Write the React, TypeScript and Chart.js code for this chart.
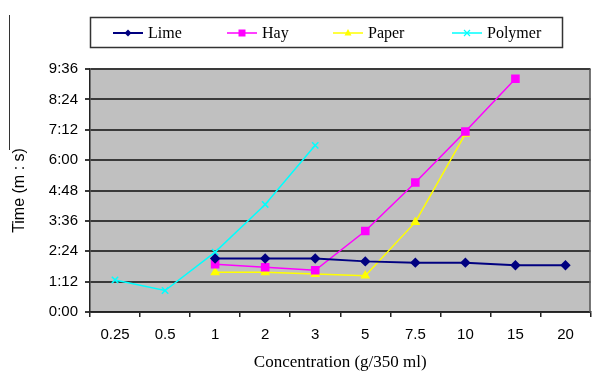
import React, { useEffect, useRef } from "react";
import { Chart, registerables } from "chart.js";

Chart.register(...registerables);

const categories = ["0.25", "0.5", "1", "2", "3", "5", "7.5", "10", "15", "20"];
// values in seconds
const limeValues = [null, null, 127, 127, 127, 120, 117, 117, 111, 111];
const hayValues = [null, null, 113, 106, 99, 192, 307, 428, 553, null];
const paperValues = [null, null, 94, 94, 90, 86, 213, 422, null, null];
const polymerValues = [76, 51, 142, 255, 395, null, null, null, null, null];
const yTickStep = 72;
const yMax = 576;

const seriesNames = ["Lime", "Hay", "Paper", "Polymer"];
const seriesColors = ["#000080", "#FF00FF", "#FFFF00", "#00FFFF"];

function fmt(v: number) {
  const m = Math.floor(v / 60);
  const s = Math.round(v % 60);
  return `${m}:${String(s).padStart(2, "0")}`;
}

function drawMarker(ctx: CanvasRenderingContext2D, kind: string, x: number, y: number, color: string) {
  ctx.save();
  ctx.fillStyle = color;
  ctx.strokeStyle = color;
  ctx.lineWidth = 1.2;
  ctx.beginPath();
  if (kind === "diamond") {
    ctx.moveTo(x, y - 3.5);
    ctx.lineTo(x + 3.5, y);
    ctx.lineTo(x, y + 3.5);
    ctx.lineTo(x - 3.5, y);
    ctx.closePath();
    ctx.fill();
  } else if (kind === "square") {
    ctx.rect(x - 3.5, y - 3.5, 7, 7);
    ctx.fill();
  } else if (kind === "triangle") {
    ctx.moveTo(x, y - 4);
    ctx.lineTo(x + 3.5, y + 2.5);
    ctx.lineTo(x - 3.5, y + 2.5);
    ctx.closePath();
    ctx.fill();
  } else {
    ctx.moveTo(x - 3, y - 3);
    ctx.lineTo(x + 3, y + 3);
    ctx.moveTo(x + 3, y - 3);
    ctx.lineTo(x - 3, y + 3);
    ctx.stroke();
  }
  ctx.restore();
}

const markerKinds = ["diamond", "square", "triangle", "cross"];

const decorPlugin = {
  id: "decor",
  beforeDraw(chart: any) {
    const { ctx, chartArea } = chart;
    ctx.save();
    ctx.fillStyle = "#C0C0C0";
    ctx.fillRect(chartArea.left, chartArea.top, chartArea.right - chartArea.left, chartArea.bottom - chartArea.top);
    ctx.restore();
  },
  afterDraw(chart: any) {
    const { ctx, chartArea } = chart;
    ctx.save();
    // right border of plot
    ctx.strokeStyle = "#555";
    ctx.lineWidth = 1.5;
    ctx.beginPath();
    ctx.moveTo(chartArea.right - 0.5, chartArea.top);
    ctx.lineTo(chartArea.right - 0.5, chartArea.bottom);
    ctx.stroke();
    // outer frame fragment on the left
    ctx.strokeStyle = "#333";
    ctx.lineWidth = 1;
    ctx.beginPath();
    ctx.moveTo(9.5, 15);
    ctx.lineTo(9.5, 150);
    ctx.stroke();
    // legend box
    ctx.fillStyle = "#fff";
    ctx.fillRect(90, 17, 473, 31);
    ctx.strokeStyle = "#333";
    ctx.lineWidth = 1.5;
    ctx.strokeRect(90.5, 17.5, 472, 30);
    const lineStarts = [113, 227, 333, 452];
    const yc = 33;
    ctx.font = "16px 'Liberation Serif', serif";
    ctx.textBaseline = "middle";
    ctx.textAlign = "left";
    for (let i = 0; i < seriesNames.length; i++) {
      const x0 = lineStarts[i];
      ctx.strokeStyle = seriesColors[i];
      ctx.lineWidth = i === 0 ? 2 : 1.5;
      ctx.beginPath();
      ctx.moveTo(x0, yc);
      ctx.lineTo(x0 + 30, yc);
      ctx.stroke();
      drawMarker(ctx, markerKinds[i], x0 + 15, yc, seriesColors[i]);
      ctx.fillStyle = "#000";
      ctx.fillText(seriesNames[i], x0 + 35, yc + 0.5);
    }
    ctx.restore();
  },
};

export default function App() {
  const ref = useRef<HTMLCanvasElement | null>(null);
  useEffect(() => {
    if (!ref.current) return;
    const chart = new Chart(ref.current, {
      type: "line",
      data: {
        labels: categories,
        datasets: [
          {
            label: "Lime",
            data: limeValues,
            borderColor: seriesColors[0],
            backgroundColor: seriesColors[0],
            borderWidth: 2,
            pointStyle: "rectRot",
            pointRadius: 3.8,
            spanGaps: false,
          },
          {
            label: "Hay",
            data: hayValues,
            borderColor: seriesColors[1],
            backgroundColor: seriesColors[1],
            borderWidth: 1.5,
            pointStyle: "rect",
            pointRadius: 5,
          },
          {
            label: "Paper",
            data: paperValues,
            borderColor: seriesColors[2],
            backgroundColor: seriesColors[2],
            borderWidth: 1.5,
            pointStyle: "triangle",
            pointRadius: 4.2,
          },
          {
            label: "Polymer",
            data: polymerValues,
            borderColor: seriesColors[3],
            backgroundColor: seriesColors[3],
            borderWidth: 1.5,
            pointStyle: "crossRot",
            pointRadius: 4.5,
            pointBorderWidth: 1.5,
          },
        ],
      },
      options: {
        animation: false,
        responsive: false,
        maintainAspectRatio: false,
        layout: { padding: { top: 69, right: 2, left: 0, bottom: 0 } },
        plugins: {
          legend: { display: false },
          tooltip: { enabled: false },
        },
        elements: { line: { tension: 0 } },
        scales: {
          x: {
            type: "category",
            offset: true,
            grid: {
              offset: true,
              drawOnChartArea: false,
              drawTicks: true,
              tickLength: 5,
              color: "#222",
              lineWidth: 1.5,
            },
            border: { color: "#222", width: 1.5 },
            ticks: {
              color: "#000",
              padding: 9,
              font: { family: "'Liberation Sans', Arial, sans-serif", size: 15 },
              maxRotation: 0,
              autoSkip: false,
            },
            title: {
              display: true,
              text: "Concentration (g/350 ml)",
              color: "#000",
              font: { family: "'Liberation Serif', serif", size: 17, lineHeight: 1.1 },
              padding: { top: 0, bottom: 0 },
            },
            afterFit: (s: any) => {
              s.height = 60;
            },
          },
          y: {
            min: 0,
            max: yMax,
            grid: {
              color: "#3a3a3a",
              lineWidth: 2,
              tickLength: 5,
              drawTicks: true,
            },
            border: { color: "#222", width: 1.5 },
            ticks: {
              stepSize: yTickStep,
              color: "#000",
              padding: 7,
              font: { family: "'Liberation Sans', Arial, sans-serif", size: 15 },
              callback: (v: any) => fmt(Number(v)),
            },
            title: {
              display: true,
              text: "Time (m : s)",
              color: "#000",
              font: { family: "'Liberation Sans', Arial, sans-serif", size: 16 },
              padding: { top: 10, bottom: 0 },
            },
            afterFit: (s: any) => {
              s.width = 90;
            },
          },
        },
      },
      plugins: [decorPlugin],
    });
    return () => chart.destroy();
  }, []);
  return (
    <div style={{ position: "fixed", left: 0, top: 0, width: 597, height: 372, background: "#fff" }}>
      <canvas ref={ref} width={597} height={372} style={{ display: "block", width: 597, height: 372 }} />
    </div>
  );
}
